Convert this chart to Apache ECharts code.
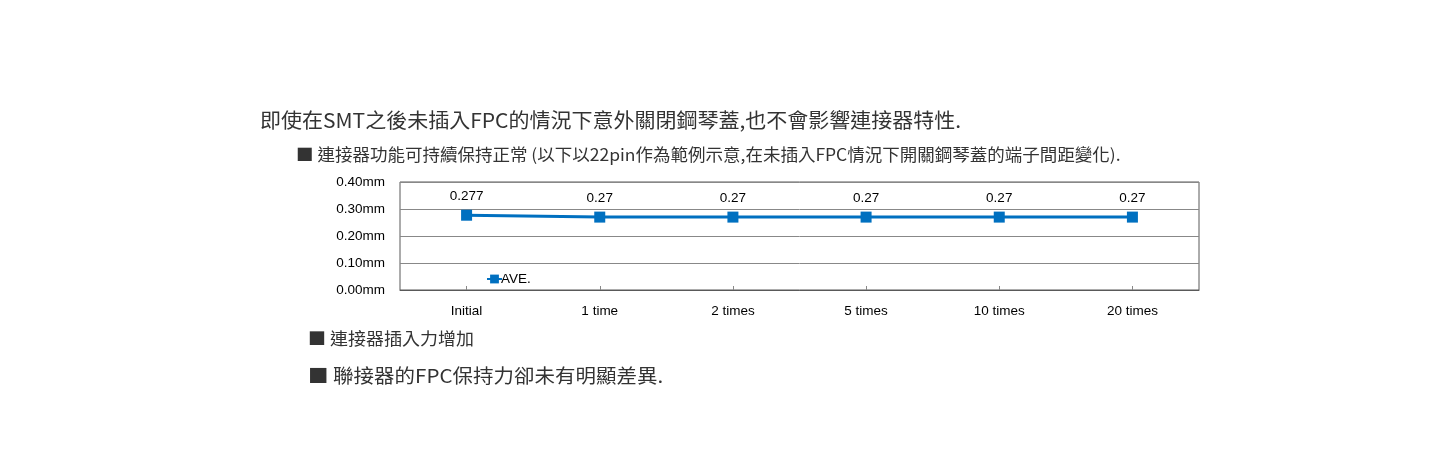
<!DOCTYPE html>
<html>
<head>
<meta charset="utf-8">
<script src="https://cdn.jsdelivr.net/npm/echarts@6/dist/echarts.min.js"></script>
<style>
html,body{margin:0;padding:0;background:#fff;}
#c{width:1440px;height:470px;}
</style>
</head>
<body>
<div id="c"></div>
<script>
const categories = ['Initial', '1 time', '2 times', '5 times', '10 times', '20 times'];
const aveValues = [0.277, 0.27, 0.27, 0.27, 0.27, 0.27];
const seriesName = 'AVE.';
const yTicks = [0, 0.1, 0.2, 0.3, 0.4];
const textLines = [
  '即使在SMT之後未插入FPC的情況下意外關閉鋼琴蓋,也不會影響連接器特性.',
  '■ 連接器功能可持續保持正常 (以下以22pin作為範例示意,在未插入FPC情況下開關鋼琴蓋的端子間距變化).',
  '■ 連接器插入力增加',
  '■ 聯接器的FPC保持力卻未有明顯差異.'
];

const chart = echarts.init(document.getElementById('c'));
const cjk = '"Noto Sans CJK TC", sans-serif';
const latin = 'Liberation Sans';
chart.setOption({
  animation: false,
  backgroundColor: '#fff',
  graphic: [
    {type:'text', x:260, y:120, scaleY:0.95, style:{text:textLines[0], font:'21px ' + cjk, fill:'#333', verticalAlign:'middle'}},
    {type:'text', x:296, y:155, scaleY:0.95, style:{text:textLines[1], font:'17.5px ' + cjk, fill:'#333', verticalAlign:'middle'}},
    {type:'text', x:308, y:338, scaleY:0.95, style:{text:textLines[2], font:'18px ' + cjk, fill:'#333', verticalAlign:'middle'}},
    {type:'text', x:308, y:376, scaleY:0.92, style:{text:textLines[3], font:'20.5px ' + cjk, fill:'#333', verticalAlign:'middle'}}
  ],
  grid: {left:400, top:182, width:799, height:108, show:true, borderColor:'#595959', borderWidth:1},
  legend: {
    data:[seriesName], left:481, top:267, itemWidth:15, itemHeight:11, itemGap:0,
    textStyle:{fontFamily:latin, fontSize:13.5, color:'#000', padding:[0,0,0,-6]}
  },
  xAxis: {
    type:'category', data:categories, boundaryGap:true,
    axisLine:{show:true, lineStyle:{color:'#595959'}},
    axisTick:{show:true, alignWithLabel:true, inside:true, length:4, lineStyle:{color:'#888'}},
    axisLabel:{margin:14, fontFamily:latin, fontSize:13.5, color:'#000'}
  },
  yAxis: {
    type:'value', min:yTicks[0], max:yTicks[yTicks.length-1], interval:0.1,
    axisLine:{show:false}, axisTick:{show:false},
    axisLabel:{margin:15, fontFamily:latin, fontSize:13.5, color:'#000', formatter: v => v.toFixed(2) + 'mm'},
    splitLine:{lineStyle:{color:'#888', width:1}}
  },
  series: [{
    name: seriesName, type:'line', data: aveValues,
    symbol:'rect', symbolSize:11,
    itemStyle:{color:'#0070C0'},
    lineStyle:{color:'#0070C0', width:3},
    label:{show:true, position:'top', distance:6, fontFamily:latin, fontSize:13.5, color:'#000', formatter: p => String(p.value)}
  }]
});
</script>
</body>
</html>
